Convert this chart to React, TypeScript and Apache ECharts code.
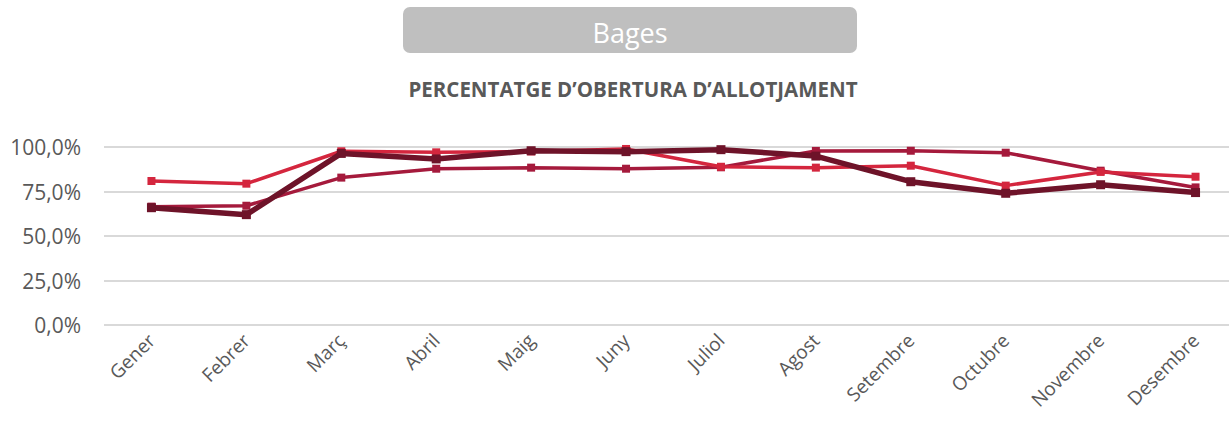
import React, { useEffect, useRef } from "react";
import * as echarts from "echarts";

const months = ["Gener", "Febrer", "Març", "Abril", "Maig", "Juny", "Juliol", "Agost", "Setembre", "Octubre", "Novembre", "Desembre"];
const seriesA = [80.9, 79.4, 97.6, 97.0, 97.5, 98.9, 88.9, 88.4, 89.5, 78.3, 86.0, 83.3];
const seriesB = [66.5, 67.0, 82.8, 87.8, 88.4, 87.8, 88.6, 97.8, 97.9, 96.8, 86.7, 77.3];
const seriesC = [65.9, 62.0, 96.4, 93.3, 97.9, 97.4, 98.5, 94.9, 80.5, 74.0, 78.8, 74.4];
const yTicks = [0, 25, 50, 75, 100];

const FONT = "'Open Sans', sans-serif";

export default function App() {
  const ref = useRef<HTMLDivElement>(null);
  useEffect(() => {
    if (!ref.current) return;
    const chart = echarts.init(ref.current, undefined, { renderer: "svg" });
    const mk = (name: string, data: number[], color: string, width: number, size: number, z: number) => ({
      name,
      type: "line",
      data,
      symbol: "rect",
      symbolSize: size,
      z,
      lineStyle: { color, width },
      itemStyle: { color },
    });
    chart.setOption({
      animation: false,
      textStyle: { fontFamily: FONT },
      grid: { left: 104, right: 0, top: 147, bottom: 100 },
      graphic: [
        { type: "rect", left: 403, top: 7, shape: { width: 454, height: 46, r: 7 }, style: { fill: "#BFBFBF" } },
        { type: "text", x: 630, y: 32, style: { text: "Bages", fill: "#ffffff", font: `27px ${FONT}`, textAlign: "center", textVerticalAlign: "middle" } },
        { type: "text", x: 633, y: 89, style: { text: "PERCENTATGE D’OBERTURA D’ALLOTJAMENT", fill: "#595959", font: `bold 20.5px ${FONT}`, textAlign: "center", textVerticalAlign: "middle" } },
      ],
      xAxis: {
        type: "category",
        data: months,
        boundaryGap: true,
        axisLine: { show: false },
        axisTick: { show: false },
        axisLabel: { rotate: 45, color: "#595959", fontSize: 19, fontFamily: FONT, margin: 12, interval: 0 },
      },
      yAxis: {
        type: "value",
        min: yTicks[0],
        max: yTicks[yTicks.length - 1],
        interval: 25,
        axisLine: { show: false },
        axisTick: { show: false },
        splitLine: { lineStyle: { color: "#D9D9D9", width: 2 } },
        axisLabel: {
          color: "#595959",
          fontSize: 21,
          fontFamily: FONT,
          margin: 23,
          formatter: (v: number) => v.toFixed(1).replace(".", ",") + "%",
        },
      },
      series: [
        mk("B", seriesB, "#A51A3C", 3.5, 8, 2),
        mk("A", seriesA, "#D4263E", 3.5, 8, 3),
        mk("C", seriesC, "#6E1329", 5.5, 9, 4),
      ],
    });
    return () => chart.dispose();
  }, []);
  return (
    <div style={{ position: "fixed", left: 0, top: 0, width: 1229, height: 425, overflow: "hidden", background: "#fff" }}>
      <div ref={ref} style={{ width: 1243, height: 425 }} />
    </div>
  );
}
